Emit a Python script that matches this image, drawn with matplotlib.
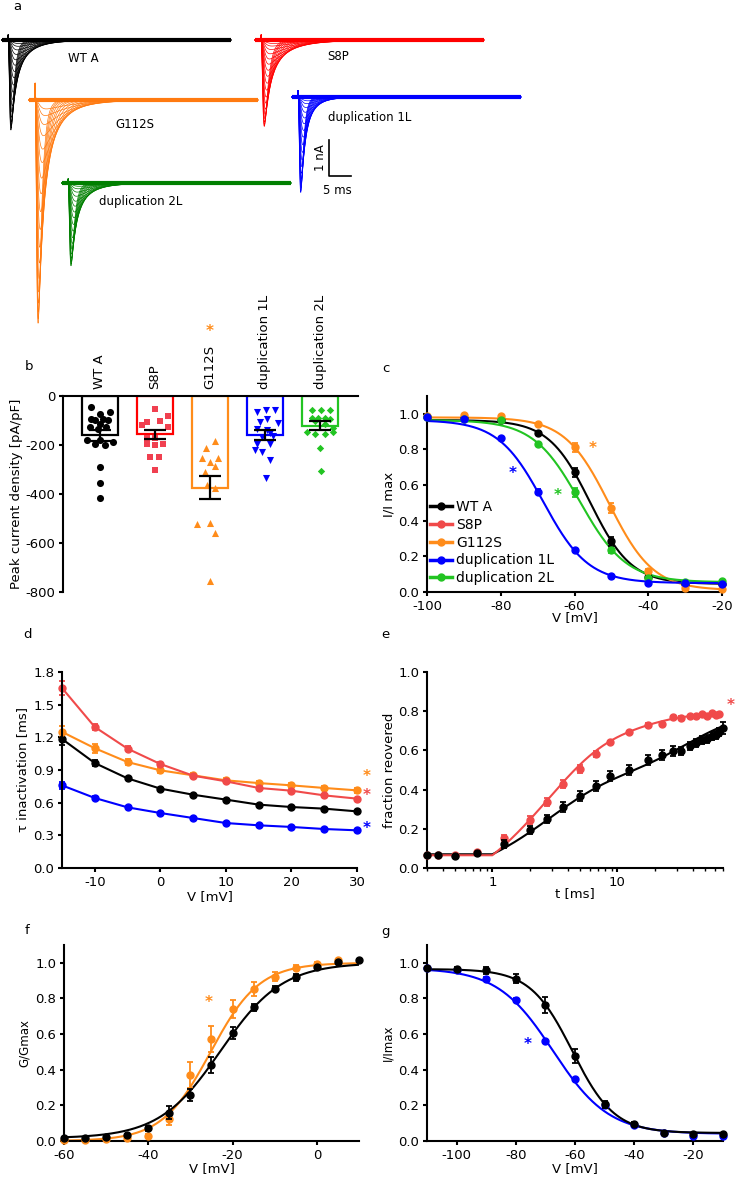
import numpy as np
import matplotlib
matplotlib.use("Agg")
import matplotlib.pyplot as plt
from matplotlib.lines import Line2D
from matplotlib.ticker import LogLocator, NullFormatter, FixedLocator

plt.rcParams['font.family'] = ['DejaVu Sans']
plt.rcParams['font.size'] = 9.5
plt.rcParams['axes.linewidth'] = 1.5
plt.rcParams['axes.unicode_minus'] = False
for a in ('xtick', 'ytick'):
    plt.rcParams[a + '.major.width'] = 1.5
    plt.rcParams[a + '.major.size'] = 3
    plt.rcParams[a + '.minor.width'] = 1.0
    plt.rcParams[a + '.minor.size'] = 2
    plt.rcParams[a + '.major.pad'] = 2.5
    plt.rcParams[a + '.labelsize'] = 9.5

BLACK = '#000000'
RED = '#f04a4a'
ORANGE = '#ff8c1a'
BLUE = '#0000ff'
GREEN = '#22c422'

# ---------------- panel a: example current traces ----------------
TRACE_NAMES = ['WT A', 'S8P', 'G112S', 'duplication 1L', 'duplication 2L']
TRACE_COLORS = ['#000000', '#ff0000', '#ff7a10', '#0000ff', '#007f00']
PEAK_NA = [2.5, 2.4, 6.2, 2.65, 2.3]          # largest peak in each family [nA]
TAU_H = [0.7, 0.95, 0.8, 0.6, 0.75]            # decay of largest trace [ms]
FAN = [4.5, 4.5, 4.0, 3.0, 4.0]                # how much slower the small traces get
ARTIFACT = [0.15, 0.15, 0.5, 0.2, 0.12]        # capacitive spike [nA]
REL_AMP = [1.0, 0.98, 0.95, 0.91, 0.86, 0.8, 0.73, 0.66, 0.58, 0.5, 0.42, 0.35,
           0.28, 0.22, 0.16, 0.11, 0.07, 0.04]
TAU_SCALE = [1.0, 1.03, 1.06, 1.1, 1.15, 1.2, 1.27, 1.35, 1.45, 1.55, 1.67, 1.8,
             1.95, 2.1, 2.3, 2.55, 2.8, 3.1]
TRACE_MS = 52.0

# ---------------- panel b: peak current density ----------------
B_GROUPS = ['WT A', 'S8P', 'G112S', 'duplication 1L', 'duplication 2L']
B_MEAN = [-160, -156, -375, -158, -121]
B_SEM = [22, 19, 47, 21, 19]
B_WT = [-45, -65, -72, -92, -92, -99, -99, -113, -126, -126, -133, -180, -180, -187, -194, -200, -289, -354, -415]
B_S8P = [-52, -80, -120, -106, -102, -126, -170, -170, -194, -194, -201, -251, -251, -302]
B_G112S = [-184, -214, -255, -252, -268, -286, -309, -363, -377, -523, -519, -560, -757]
B_DUP1 = [-56, -58, -65, -92, -106, -110, -133, -140, -153, -167, -164, -194, -194, -221, -228, -262, -336]
B_DUP2 = [-56, -58, -56, -88, -88, -88, -92, -102, -115, -130, -146, -156, -156, -146, -214, -306]

# horizontal spread of the dots inside each bar (layout only)
J_WT = [-0.17, 0.18, 0, -0.17, 0.06, -0.09, 0.15, 0, -0.18, 0.12, -0.03, -0.24, 0, 0.24, -0.09, 0.09, 0, 0, 0]
J_S8P = [0, 0.24, -0.24, -0.15, 0.09, 0.24, -0.15, 0, 0.15, -0.15, 0, -0.09, 0.08, 0]
J_G112S = [0.09, -0.07, -0.15, 0.15, 0, 0.09, -0.09, -0.06, 0.09, -0.24, 0, 0.09, 0]
J_DUP1 = [0.02, 0.18, -0.15, 0.03, -0.09, 0.24, -0.15, 0.03, 0.09, -0.06, 0.15, -0.15, 0.09, -0.18, -0.06, 0.09, 0.01]
J_DUP2 = [-0.15, 0.01, 0.18, -0.15, -0.03, 0.09, 0.18, -0.09, 0.09, 0.24, -0.24, -0.09, 0.09, 0.24, 0, 0.01]

# ---------------- panel c: steady-state inactivation ----------------
C_V = [-100, -90, -80, -70, -60, -50, -40, -30, -20]
C_WT = [0.98, 0.976, 0.966, 0.895, 0.671, 0.284, 0.084, 0.047, 0.047]
C_WT_E = [0.005, 0.005, 0.008, 0.01, 0.025, 0.025, 0.01, 0.005, 0.005]
C_G112S = [0.99, 0.994, 0.985, 0.942, 0.813, 0.471, 0.116, 0.022, 0.017]
C_G112S_E = [0.005, 0.005, 0.005, 0.008, 0.025, 0.03, 0.015, 0.005, 0.005]
C_DUP1 = [0.98, 0.97, 0.864, 0.564, 0.234, 0.092, 0.05, 0.048, 0.047]
C_DUP1_E = [0.005, 0.005, 0.008, 0.015, 0.008, 0.005, 0.005, 0.005, 0.005]
C_DUP2 = [0.98, 0.972, 0.963, 0.832, 0.559, 0.234, 0.079, 0.056, 0.06]
C_DUP2_E = [0.005, 0.005, 0.005, 0.008, 0.025, 0.015, 0.008, 0.005, 0.005]
# Boltzmann fit parameters: top, bottom, V1/2, k
C_FIT = {'WT A': (0.965, 0.045, -55.8, 5.6), 'G112S': (0.98, 0.01, -50.6, 6.0),
         'duplication 1L': (0.965, 0.05, -68.5, 6.1), 'duplication 2L': (0.965, 0.055, -58.6, 6.3)}

# ---------------- panel d: inactivation time constant ----------------
D_V = [-15, -10, -5, 0, 5, 10, 15, 20, 25, 30]
D_S8P = [1.653, 1.295, 1.096, 0.955, 0.848, 0.796, 0.735, 0.71, 0.667, 0.637]
D_S8P_E = [0.06, 0.03, 0.02, 0.015, 0.015, 0.015, 0.01, 0.01, 0.01, 0.01]
D_G112S = [1.25, 1.10, 0.973, 0.897, 0.851, 0.805, 0.78, 0.759, 0.735, 0.713]
D_G112S_E = [0.05, 0.04, 0.03, 0.025, 0.025, 0.02, 0.02, 0.02, 0.02, 0.02]
D_WT = [1.185, 0.964, 0.823, 0.729, 0.673, 0.628, 0.582, 0.56, 0.545, 0.52]
D_WT_E = [0.055, 0.025, 0.01, 0.01, 0.008, 0.008, 0.008, 0.008, 0.008, 0.008]
D_DUP1 = [0.759, 0.643, 0.557, 0.505, 0.459, 0.413, 0.392, 0.377, 0.358, 0.346]
D_DUP1_E = [0.03, 0.02, 0.01, 0.008, 0.008, 0.008, 0.008, 0.008, 0.008, 0.008]

# ---------------- panel e: recovery from inactivation ----------------
E_T_S8P = [0.3, 0.37, 0.5, 0.75, 1.25, 2, 2.75, 3.7, 5, 6.8, 8.7, 12.4, 17.5, 22.6, 27.8, 32.4, 37.9, 42.8, 47.6, 52.5, 57.3, 61.3, 64.9]
E_S8P = [0.064, 0.066, 0.064, 0.08, 0.153, 0.243, 0.335, 0.43, 0.505, 0.583, 0.641, 0.692, 0.73, 0.736, 0.77, 0.767, 0.777, 0.777, 0.787, 0.774, 0.79, 0.782, 0.784]
E_S8P_E = [0.004, 0.004, 0.004, 0.006, 0.015, 0.02, 0.02, 0.02, 0.02, 0.015, 0.008, 0.008, 0.008, 0.008, 0.006, 0.006, 0.006, 0.006, 0.006, 0.006, 0.006, 0.006, 0.006]
E_T_WT = [0.3, 0.37, 0.5, 0.75, 1.25, 2, 2.75, 3.7, 5, 6.8, 8.7, 12.4, 17.5, 22.6, 27.8, 32.4, 37.9, 42.8, 47.6, 52.5, 57.3, 61.3, 64.9, 70.3]
E_WT = [0.068, 0.065, 0.063, 0.077, 0.124, 0.192, 0.252, 0.311, 0.369, 0.417, 0.471, 0.498, 0.553, 0.578, 0.595, 0.599, 0.621, 0.638, 0.651, 0.66, 0.672, 0.68, 0.694, 0.714]
E_WT_E = [0.004, 0.004, 0.004, 0.006, 0.02, 0.02, 0.02, 0.025, 0.025, 0.025, 0.025, 0.025, 0.025, 0.025, 0.025, 0.02, 0.02, 0.02, 0.02, 0.02, 0.02, 0.02, 0.02, 0.03]
# plateau-then-two-phase fit: y0, delay, A1, tau1, A2, tau2
E_FIT_S8P = (0.065, 1.0, 0.5, 2.5, 0.22, 12.0)
E_FIT_WT = (0.07, 1.0, 0.31, 2.5, 0.4, 35.0)

# ---------------- panel f: activation ----------------
F_V = [-60, -55, -50, -45, -40, -35, -30, -25, -20, -15, -10, -5, 0, 5, 10]
F_WT = [0.019, 0.019, 0.024, 0.034, 0.071, 0.159, 0.259, 0.428, 0.606, 0.75, 0.855, 0.919, 0.976, 1.004, 1.015]
F_WT_E = [0.004, 0.004, 0.005, 0.008, 0.015, 0.035, 0.035, 0.045, 0.035, 0.02, 0.015, 0.02, 0.008, 0.006, 0.006]
F_V_G = [-60, -55, -50, -45, -40, -35, -30, -25, -20, -15, -10, -5, 0, 5]
F_G112S = [0.006, 0.006, 0.009, 0.015, 0.03, 0.122, 0.371, 0.572, 0.743, 0.854, 0.921, 0.972, 0.996, 1.015]
F_G112S_E = [0.003, 0.003, 0.003, 0.005, 0.008, 0.03, 0.075, 0.075, 0.05, 0.04, 0.025, 0.015, 0.01, 0.006]
F_FIT_WT = (1.0, 0.015, -22.8, 7.3)
F_FIT_G112S = (1.0, 0.0, -25.2, 5.8)

# ---------------- panel g: inactivation, WT vs duplication 1L ----------------
G_V = [-110, -100, -90, -80, -70, -60, -50, -40, -30, -20, -10]
G_WT = [0.972, 0.968, 0.957, 0.91, 0.765, 0.475, 0.206, 0.096, 0.047, 0.038, 0.038]
G_WT_E = [0.006, 0.008, 0.02, 0.025, 0.045, 0.04, 0.02, 0.01, 0.008, 0.008, 0.008]
G_DUP1 = [0.972, 0.959, 0.91, 0.79, 0.559, 0.347, 0.2, 0.09, 0.043, 0.03, 0.03]
G_DUP1_E = [0.005, 0.006, 0.008, 0.012, 0.008, 0.008, 0.008, 0.006, 0.005, 0.005, 0.005]
G_FIT_WT = (0.965, 0.045, -60.9, 7.1)
G_FIT_DUP1 = (0.97, 0.04, -67.4, 9.4)

W, H = 738, 1183
fig = plt.figure(figsize=(W / 100, H / 100), dpi=100)


def ax_px(l, t, r, b):
    return fig.add_axes([l / W, 1 - b / H, (r - l) / W, (b - t) / H])


def inact(v, p):
    top, bot, vh, k = p
    return bot + (top - bot) / (1 + np.exp((v - vh) / k))


def act(v, p):
    top, bot, vh, k = p
    return bot + (top - bot) / (1 + np.exp((vh - v) / k))


def recov(t, p):
    y0, d, a1, t1, a2, t2 = p
    x = np.clip(t - d, 0, None)
    return y0 + a1 * (1 - np.exp(-x / t1)) + a2 * (1 - np.exp(-x / t2))


def style(ax):
    ax.spines['top'].set_visible(False)
    ax.spines['right'].set_visible(False)


def eb(ax, x, y, e, c, ms=5, z=3):
    ax.errorbar(x, y, yerr=e, fmt='o', color=c, ms=ms, capsize=2.5,
                elinewidth=1.3, capthick=1.3, zorder=z, clip_on=False)


def star(ax, x, y, c, fs=11):
    ax.text(x, y, '*', color=c, fontsize=fs, ha='center', va='center',
            clip_on=False, fontweight='bold')


# ---- panel a ----
PX_MS, PX_NA = 22 / 5, 36.0
axa = ax_px(0, 0, W, 330)
axa.set_xlim(0, W / PX_MS)
axa.set_ylim(-330 / PX_NA, 0)
axa.axis('off')
# (start x px, baseline y px) of each family, label position px
A_POS = [(2, 40), (255, 40), (29, 100), (292, 97), (62, 183)]
A_LAB = [(83, 58), (338, 57), (135, 125), (370, 118), (141, 202)]
t = np.linspace(0, TRACE_MS, 4000)
ton = 1.4
x = np.clip(t - ton, 0, None)
for i, name in enumerate(TRACE_NAMES):
    t0 = A_POS[i][0] / PX_MS
    base = -A_POS[i][1] / PX_NA
    col = TRACE_COLORS[i]
    for r, s in zip(REL_AMP, TAU_SCALE):
        tm = 0.3 * s ** 0.8
        th = TAU_H[i] * (1 + (s - 1) * FAN[i])
        shape = (1 - np.exp(-x / tm)) ** 3 * np.exp(-x / th)
        shape = shape / shape.max()
        cur = -PEAK_NA[i] * r * shape + ARTIFACT[i] * np.exp(-x / 0.06) * (t >= ton)
        axa.plot(t0 + t, base + cur, color=col, lw=0.5)
    axa.plot([t0, t0 + TRACE_MS], [base, base], color=col, lw=3.0, solid_capstyle='butt')
    axa.text(A_LAB[i][0] / PX_MS, -A_LAB[i][1] / PX_NA, name, ha='center', va='center',
             fontsize=8.5, family=['Liberation Sans Narrow', 'DejaVu Sans'])
sx, sy0, sy1 = 329 / PX_MS, -140 / PX_NA, -176 / PX_NA
axa.plot([sx, sx, sx + 5], [sy0, sy1, sy1], color='k', lw=1.2)
axa.text(321 / PX_MS, -158 / PX_NA, '1 nA', rotation=90, ha='center', va='center',
         fontsize=8.5, family=['Liberation Sans Narrow', 'DejaVu Sans'])
axa.text(337 / PX_MS, -190 / PX_NA, '5 ms', ha='center', va='center',
         fontsize=8.5, family=['Liberation Sans Narrow', 'DejaVu Sans'])

# ---- panel b ----
axb = ax_px(63, 396, 358, 592)
axb.spines['bottom'].set_visible(False)
axb.spines['right'].set_visible(False)
pos = np.arange(len(B_GROUPS))
bcols = [BLACK, '#ff0000', ORANGE, BLUE, GREEN]
axb.bar(pos, B_MEAN, width=0.65, facecolor='white', edgecolor=bcols, lw=1.6, zorder=1)
pts = [B_WT, B_S8P, B_G112S, B_DUP1, B_DUP2]
jit = [J_WT, J_S8P, J_G112S, J_DUP1, J_DUP2]
mk = ['o', 's', '^', 'v', 'D']
mc = [BLACK, '#f04050', ORANGE, BLUE, GREEN]
msz = [26, 24, 26, 26, 14]
for i in range(5):
    axb.scatter(pos[i] + np.array(jit[i]), pts[i], marker=mk[i], s=msz[i], color=mc[i],
                lw=0, zorder=2)
axb.errorbar(pos, B_MEAN, yerr=B_SEM, fmt='none', ecolor='k', elinewidth=1.6,
             capsize=8, capthick=1.6, zorder=3)
axb.set_xlim(-0.67, 4.69)
axb.set_ylim(-800, 0)
axb.set_yticks([0, -200, -400, -600, -800])
axb.xaxis.tick_top()
axb.set_xticks(pos)
axb.set_xticklabels(B_GROUPS, rotation=90)
axb.tick_params(axis='x', length=0, pad=5)
axb.set_ylabel('Peak current density [pA/pF]', labelpad=2)
star(axb, 2, 262, ORANGE)

# ---- panel c ----
axc = ax_px(427, 396, 722, 592)
style(axc)
vv = np.linspace(-100, -20, 300)
series_c = [('WT A', C_WT, C_WT_E, BLACK), ('G112S', C_G112S, C_G112S_E, ORANGE),
            ('duplication 2L', C_DUP2, C_DUP2_E, GREEN), ('duplication 1L', C_DUP1, C_DUP1_E, BLUE)]
for name, y, e, c in series_c:
    axc.plot(vv, inact(vv, C_FIT[name]), color=c, lw=1.5, zorder=2)
    eb(axc, C_V, y, e, c)
axc.set_xlim(-100, -20)
axc.set_ylim(0, 1.1)
axc.set_xticks([-100, -80, -60, -40, -20])
axc.set_yticks([0, 0.2, 0.4, 0.6, 0.8, 1.0])
axc.yaxis.set_major_formatter(matplotlib.ticker.FormatStrFormatter('%.1f'))
axc.set_xlabel('V [mV]', labelpad=-1)
axc.set_ylabel('I/I max', labelpad=2)
handles = [Line2D([], [], color=c, marker='o', ms=5, lw=2.5) for c in [BLACK, RED, ORANGE, BLUE, GREEN]]
axc.legend(handles, ['WT A', 'S8P', 'G112S', 'duplication 1L', 'duplication 2L'], loc='lower left',
           frameon=False, fontsize=10, handlelength=1.6, handletextpad=0.3, labelspacing=0.28,
           borderaxespad=0.0, borderpad=0.2, bbox_to_anchor=(0.0, 0.02))
star(axc, -55.2, 0.807, ORANGE)
star(axc, -76.9, 0.667, BLUE)
star(axc, -64.6, 0.542, GREEN)

# ---- panel d ----
axd = ax_px(62, 672, 357, 868)
style(axd)
for y, e, c in [(D_DUP1, D_DUP1_E, BLUE), (D_WT, D_WT_E, BLACK), (D_G112S, D_G112S_E, ORANGE),
                (D_S8P, D_S8P_E, RED)]:
    axd.errorbar(D_V, y, yerr=e, fmt='-o', color=c, ms=5, lw=1.5, capsize=2.5,
                 elinewidth=1.3, capthick=1.3, clip_on=False)
axd.set_xlim(-15, 30)
axd.set_ylim(0, 1.8)
axd.set_xticks([-10, 0, 10, 20, 30])
axd.set_yticks([0, 0.3, 0.6, 0.9, 1.2, 1.5, 1.8])
axd.yaxis.set_major_formatter(matplotlib.ticker.FormatStrFormatter('%.1f'))
axd.set_xlabel('V [mV]', labelpad=1)
axd.set_ylabel('τ inactivation [ms]', labelpad=3)
star(axd, 31.4, 0.842, ORANGE)
star(axd, 31.4, 0.667, RED)
star(axd, 31.4, 0.36, BLUE)

# ---- panel e ----
axe = ax_px(427, 672, 723, 868)
style(axe)
axe.set_xscale('log')
tt = np.logspace(np.log10(0.3), np.log10(70), 400)
axe.plot(tt, recov(tt, E_FIT_WT), color=BLACK, lw=1.5, zorder=2)
tt2 = tt[tt <= 63]
axe.plot(tt2, recov(tt2, E_FIT_S8P), color=RED, lw=1.5, zorder=2)
eb(axe, E_T_S8P, E_S8P, E_S8P_E, RED)
eb(axe, E_T_WT, E_WT, E_WT_E, BLACK, z=4)
axe.set_xlim(0.3, 70)
axe.set_ylim(0, 1.0)
axe.xaxis.set_major_locator(FixedLocator([1, 10]))
axe.xaxis.set_major_formatter(matplotlib.ticker.FixedFormatter(['1', '10']))
axe.xaxis.set_minor_locator(LogLocator(base=10, subs=np.arange(2, 10)))
axe.xaxis.set_minor_formatter(NullFormatter())
axe.set_yticks([0, 0.2, 0.4, 0.6, 0.8, 1.0])
axe.yaxis.set_major_formatter(matplotlib.ticker.FormatStrFormatter('%.1f'))
axe.set_xlabel('t [ms]', labelpad=-1)
axe.set_ylabel('fraction reovered', labelpad=2)
star(axe, 81, 0.83, RED)

# ---- panel f ----
axf = ax_px(64, 945, 359, 1141)
style(axf)
vf = np.linspace(-60, 10, 300)
axf.plot(vf, act(vf, F_FIT_G112S), color=ORANGE, lw=1.5, zorder=2)
axf.plot(vf, act(vf, F_FIT_WT), color=BLACK, lw=1.5, zorder=2)
eb(axf, F_V_G, F_G112S, F_G112S_E, ORANGE)
eb(axf, F_V, F_WT, F_WT_E, BLACK, z=4)
axf.set_xlim(-60, 10)
axf.set_ylim(0, 1.1)
axf.set_xticks([-60, -40, -20, 0])
axf.set_yticks([0, 0.2, 0.4, 0.6, 0.8, 1.0])
axf.yaxis.set_major_formatter(matplotlib.ticker.FormatStrFormatter('%.1f'))
axf.set_xlabel('V [mV]', labelpad=0)
axf.set_ylabel('G/Gmax', fontsize=8.5, labelpad=3)
star(axf, -25.6, 0.779, ORANGE)

# ---- panel g ----
axg = ax_px(427, 945, 723, 1141)
style(axg)
vg = np.linspace(-110, -10, 300)
axg.plot(vg, inact(vg, G_FIT_DUP1), color=BLUE, lw=1.5, zorder=2)
axg.plot(vg, inact(vg, G_FIT_WT), color=BLACK, lw=1.5, zorder=2)
eb(axg, G_V, G_DUP1, G_DUP1_E, BLUE)
eb(axg, G_V, G_WT, G_WT_E, BLACK, z=4)
axg.set_xlim(-110, -10)
axg.set_ylim(0, 1.1)
axg.set_xticks([-100, -80, -60, -40, -20])
axg.set_yticks([0, 0.2, 0.4, 0.6, 0.8, 1.0])
axg.yaxis.set_major_formatter(matplotlib.ticker.FormatStrFormatter('%.1f'))
axg.set_xlabel('V [mV]', labelpad=0)
axg.set_ylabel('I/Imax', fontsize=8.5, labelpad=3)
star(axg, -76.1, 0.54, BLUE)

# panel letters
for letter, (px, py) in zip('abcdefg', [(17, 7), (29, 367), (386, 368), (28, 635),
                                        (385, 635), (27, 931), (385, 932)]):
    fig.text(px / W, 1 - py / H, letter, ha='center', va='center', fontsize=9.5)

fig.savefig('out.png', dpi=100)
